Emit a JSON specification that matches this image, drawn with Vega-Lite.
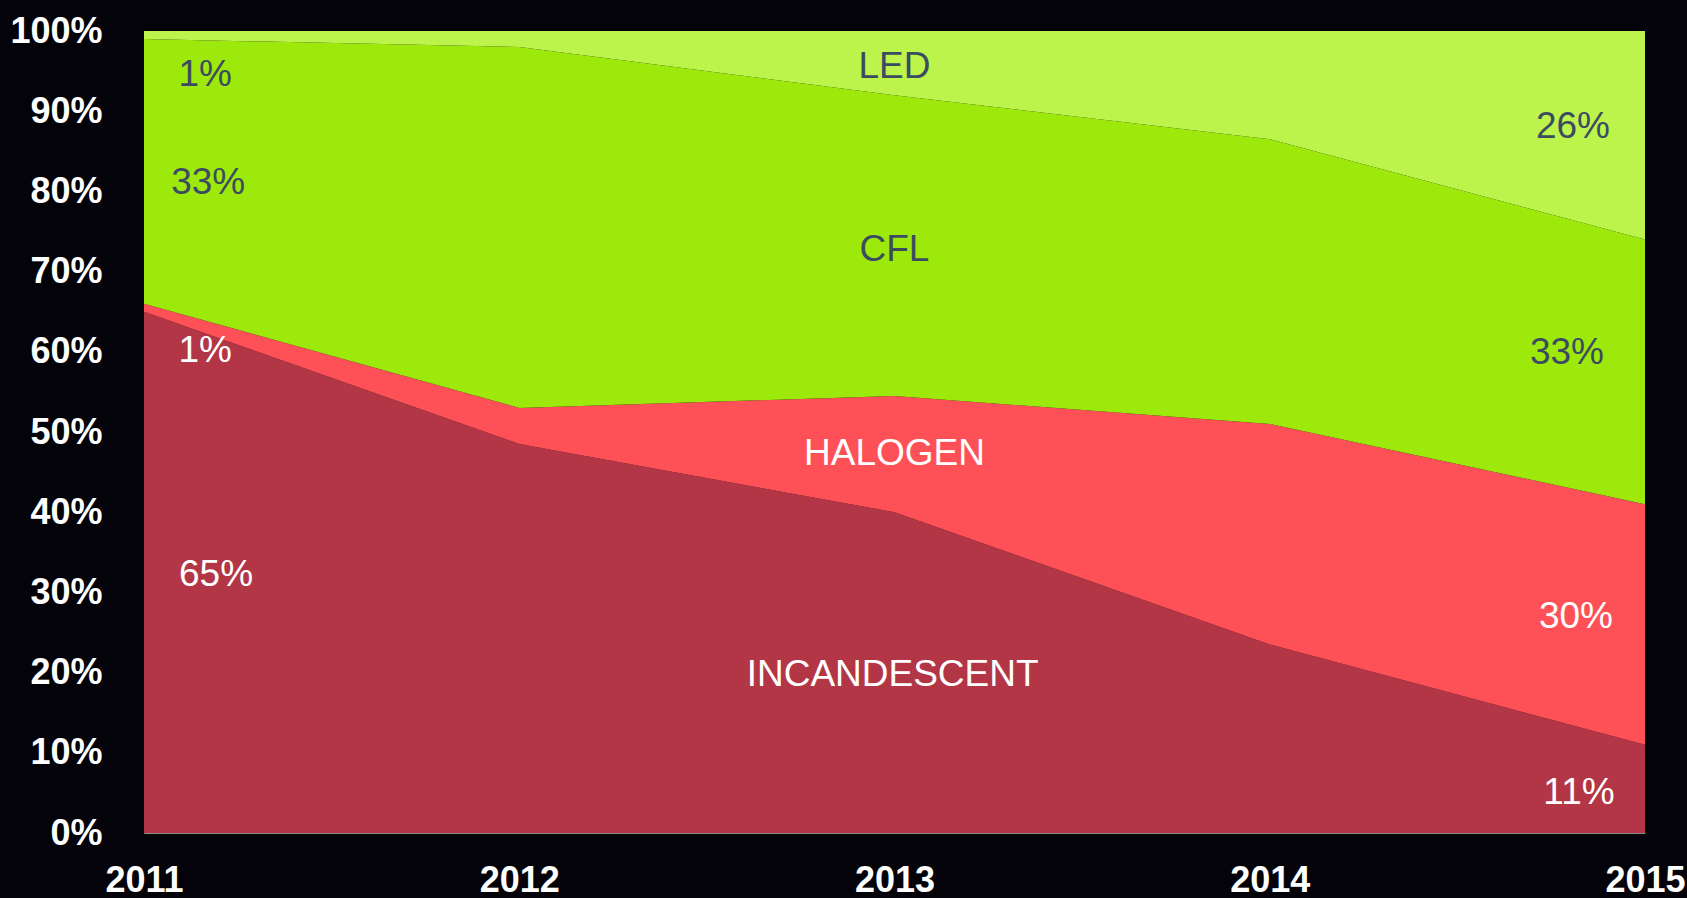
{
  "$schema": "https://vega.github.io/schema/vega-lite/v6.json",
  "width": 1501,
  "height": 802,
  "autosize": {"type": "none"},
  "padding": {"left": 144, "top": 31, "right": 42, "bottom": 65},
  "background": "#030309",
  "config": {"view": {"stroke": null}},
  "datasets": {
    "shares": [
      {"year": 2011, "type": "INCANDESCENT", "order": 1, "share": 65},
      {"year": 2012, "type": "INCANDESCENT", "order": 1, "share": 48.5},
      {"year": 2013, "type": "INCANDESCENT", "order": 1, "share": 40},
      {"year": 2014, "type": "INCANDESCENT", "order": 1, "share": 23.5},
      {"year": 2015, "type": "INCANDESCENT", "order": 1, "share": 11},
      {"year": 2011, "type": "HALOGEN", "order": 2, "share": 1},
      {"year": 2012, "type": "HALOGEN", "order": 2, "share": 4.5},
      {"year": 2013, "type": "HALOGEN", "order": 2, "share": 14.5},
      {"year": 2014, "type": "HALOGEN", "order": 2, "share": 27.5},
      {"year": 2015, "type": "HALOGEN", "order": 2, "share": 30},
      {"year": 2011, "type": "CFL", "order": 3, "share": 33},
      {"year": 2012, "type": "CFL", "order": 3, "share": 45},
      {"year": 2013, "type": "CFL", "order": 3, "share": 37.5},
      {"year": 2014, "type": "CFL", "order": 3, "share": 35.5},
      {"year": 2015, "type": "CFL", "order": 3, "share": 33},
      {"year": 2011, "type": "LED", "order": 4, "share": 1},
      {"year": 2012, "type": "LED", "order": 4, "share": 2},
      {"year": 2013, "type": "LED", "order": 4, "share": 8},
      {"year": 2014, "type": "LED", "order": 4, "share": 13.5},
      {"year": 2015, "type": "LED", "order": 4, "share": 26}
    ],
    "labels": [
      {"text": "1%", "x": 2011.163, "y": 94.5, "bg": "green"},
      {"text": "33%", "x": 2011.171, "y": 81.0, "bg": "green"},
      {"text": "1%", "x": 2011.163, "y": 60.1, "bg": "red"},
      {"text": "65%", "x": 2011.192, "y": 32.2, "bg": "red"},
      {"text": "LED", "x": 2013.0, "y": 95.5, "bg": "green"},
      {"text": "CFL", "x": 2013.0, "y": 72.7, "bg": "green"},
      {"text": "HALOGEN", "x": 2013.0, "y": 47.3, "bg": "red"},
      {"text": "INCANDESCENT", "x": 2012.995, "y": 19.7, "bg": "red"},
      {"text": "26%", "x": 2014.808, "y": 88.0, "bg": "green"},
      {"text": "33%", "x": 2014.792, "y": 59.9, "bg": "green"},
      {"text": "30%", "x": 2014.816, "y": 26.9, "bg": "red"},
      {"text": "11%", "x": 2014.824, "y": 5.0, "bg": "red"}
    ]
  },
  "layer": [
    {
      "data": {"name": "shares"},
      "mark": {"type": "area", "interpolate": "linear"},
      "encoding": {
        "x": {
          "field": "year", "type": "quantitative",
          "scale": {"domain": [2011, 2015], "nice": false, "zero": false},
          "axis": {
            "values": [2011, 2012, 2013, 2014, 2015], "format": "d", "title": null,
            "labelFont": "Liberation Sans", "labelFontWeight": "bold", "labelFontSize": 36,
            "labelColor": "#ffffff", "labelPadding": 30, "ticks": false, "grid": false,
            "domainColor": "#8a8a8a", "domainWidth": 1, "labelFlush": false, "labelOverlap": false, "labelBound": false
          }
        },
        "y": {
          "field": "share", "type": "quantitative", "stack": "zero",
          "scale": {"domain": [0, 100], "nice": false},
          "axis": {
            "values": [0, 10, 20, 30, 40, 50, 60, 70, 80, 90, 100],
            "labelExpr": "datum.value + '%'", "title": null,
            "labelFont": "Liberation Sans", "labelFontWeight": "bold", "labelFontSize": 36,
            "labelColor": "#ffffff", "labelPadding": 42, "ticks": false, "grid": false,
            "domainColor": "#8a8a8a", "domainWidth": 1, "labelFlush": false, "labelOverlap": false, "labelBound": false
          }
        },
        "color": {
          "field": "type", "type": "nominal",
          "scale": {"domain": ["INCANDESCENT", "HALOGEN", "CFL", "LED"], "range": ["#b23645", "#fe5157", "#9ee90c", "#bdf44c"]},
          "legend": null
        },
        "order": {"field": "order", "type": "quantitative"}
      }
    },
    {
      "data": {"name": "labels"},
      "mark": {"type": "text", "font": "Liberation Sans", "fontSize": 37, "align": "center", "baseline": "middle"},
      "encoding": {
        "x": {"field": "x", "type": "quantitative"},
        "y": {"field": "y", "type": "quantitative"},
        "text": {"field": "text"},
        "color": {"condition": {"test": "datum.bg === 'red'", "value": "#ffffff"}, "value": "#3c4c60"}
      }
    }
  ]
}
